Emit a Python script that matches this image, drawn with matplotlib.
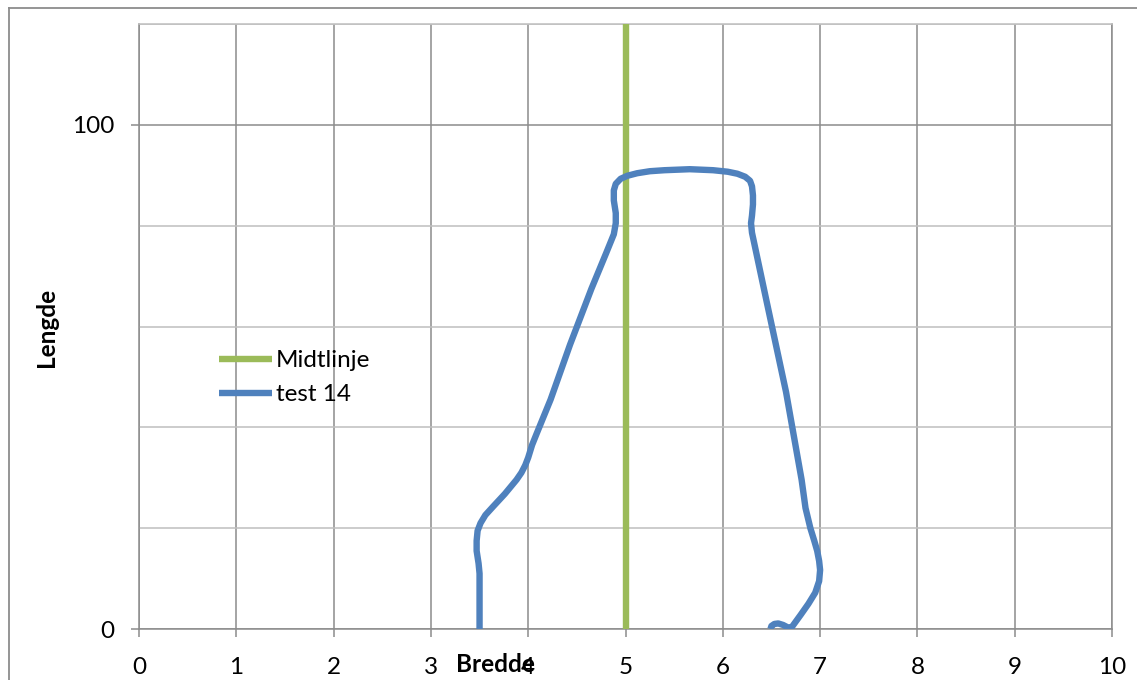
import matplotlib
matplotlib.use("Agg")
import matplotlib.pyplot as plt
from matplotlib.lines import Line2D
from matplotlib.ticker import FixedLocator

# ---- data ----
mid_x = [5, 5]
mid_y = [0, 120]

test_x = [3.50, 3.50, 3.50, 3.49, 3.47, 3.47, 3.48, 3.51, 3.56, 3.64, 3.76, 3.88,
          3.93, 3.97, 4.00, 4.04, 4.09, 4.23, 4.43, 4.65, 4.80, 4.88, 4.90, 4.90,
          4.88, 4.88, 4.90, 4.95, 5.02, 5.12, 5.25, 5.40, 5.66, 5.90, 6.05, 6.15,
          6.23, 6.28, 6.30, 6.31, 6.31, 6.30, 6.29, 6.30, 6.45, 6.65, 6.81, 6.85,
          6.90, 6.94, 6.97, 6.99, 7.00, 6.99, 6.95, 6.88, 6.80, 6.74, 6.71, 6.67,
          6.62, 6.57, 6.53, 6.50, 6.49]
test_y = [0, 5, 11, 13, 15.5, 17.5, 19.5, 21, 22.6, 24.3, 26.8, 29.6,
          31, 32.5, 34, 36.5, 38.9, 45.5, 56.4, 67.5, 74.5, 78.3, 80.5, 82.5,
          85, 87, 88.3, 89.3, 89.9, 90.4, 90.8, 91.0, 91.2, 91.0, 90.7, 90.3,
          89.7, 88.9, 87.8, 86, 84.2, 82, 80.5, 78.6, 65, 47, 29.6, 24,
          20, 17.5, 15.5, 13.5, 11.7, 9.5, 7.2, 5, 2.8, 1.2, 0.4, 0.3,
          0.8, 1.1, 1.0, 0.6, 0]

x_ticks = [0, 1, 2, 3, 4, 5, 6, 7, 8, 9, 10]
y_ticks = [0, 100]
y_minor = [20, 40, 60, 80, 120]

series_names = ["Midtlinje", "test 14"]
x_label = "Bredde"
y_label = "Lengde"

# ---- style ----
plt.rcParams['font.family'] = ['Lato', 'DejaVu Sans']
W, H = 1137, 680
fig = plt.figure(figsize=(W / 100, H / 100), dpi=100)
ax = fig.add_axes([139 / W, 1 - 629 / H, (1112 - 139) / W, (629 - 24) / H])

green = "#9BBB59"
blue = "#4F81BD"
gray = "#8C8C8C"
lgray = "#BFBFBF"
FS = 17.5

ax.plot(mid_x, mid_y, color=green, lw=4.6, solid_capstyle='butt', label=series_names[0], zorder=3)
ax.plot(test_x, test_y, color=blue, lw=4.6, solid_joinstyle='round', solid_capstyle='butt',
        label=series_names[1], zorder=4)

ax.set_xlim(0, 10)
ax.set_ylim(0, 120)
ax.xaxis.set_major_locator(FixedLocator(x_ticks))
ax.yaxis.set_major_locator(FixedLocator(y_ticks))
ax.yaxis.set_minor_locator(FixedLocator(y_minor))

ax.grid(True, which='major', axis='x', color=gray, lw=1.1)
ax.grid(True, which='major', axis='y', color=gray, lw=1.1)
ax.grid(True, which='minor', axis='y', color=lgray, lw=1.1)
ax.set_axisbelow(True)

for s in ['left', 'bottom', 'right']:
    ax.spines[s].set_color(gray)
    ax.spines[s].set_linewidth(1.1)
ax.spines['top'].set_color(lgray)
ax.spines['top'].set_linewidth(1.1)

ax.tick_params(axis='both', which='major', direction='out', length=6, width=1.1,
               color=gray, labelsize=FS, labelcolor='black')
ax.tick_params(axis='y', which='minor', length=0)
ax.tick_params(axis='x', pad=14)
ax.tick_params(axis='y', pad=12)

fig.text(495 / W, 1 - 665 / H, x_label, fontsize=FS, fontweight='bold',
         ha='center', va='center')
fig.text(47 / W, 1 - 327 / H, y_label, fontsize=FS, fontweight='bold',
         ha='center', va='center', rotation=90)

leg = ax.legend(loc='upper left', bbox_to_anchor=(219 / W, 1 - 350 / H),
                bbox_transform=fig.transFigure, frameon=False, fontsize=FS,
                handlelength=2.2, handletextpad=0.15, labelspacing=0.55,
                borderaxespad=0, borderpad=0)
for h in leg.get_lines():
    h.set_linewidth(4.6)

# outer chart border
fig.add_artist(Line2D([9 / W, 9 / W], [0, 1 - 8 / H], transform=fig.transFigure,
                      color=gray, lw=1.3))
fig.add_artist(Line2D([9 / W, 1], [1 - 8 / H, 1 - 8 / H], transform=fig.transFigure,
                      color=gray, lw=1.3))

fig.savefig("out.png", dpi=100)
